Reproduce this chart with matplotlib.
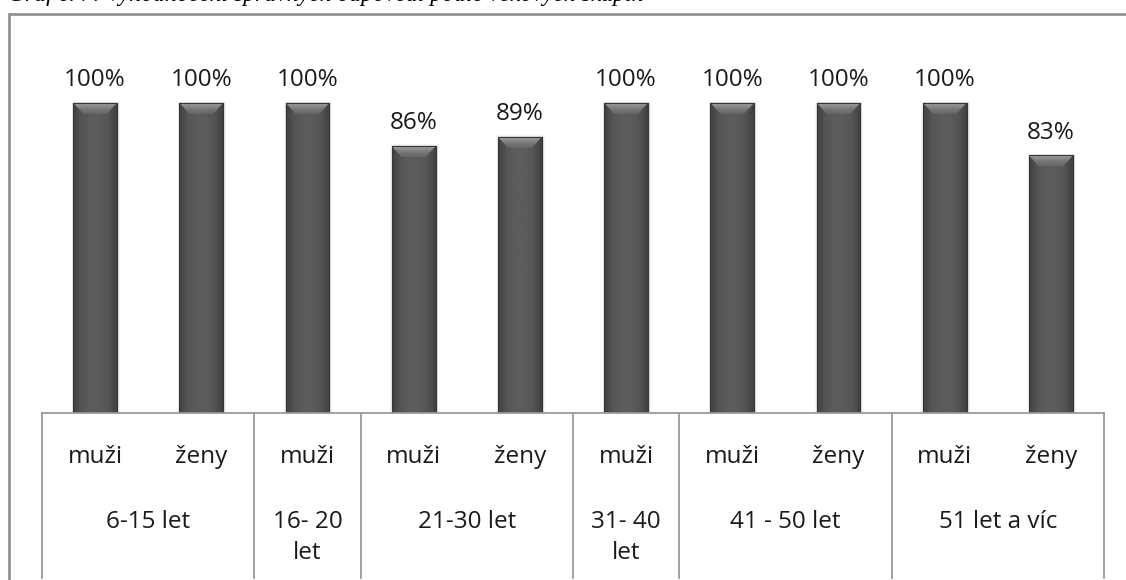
import matplotlib
matplotlib.use("Agg")
import matplotlib.pyplot as plt
import numpy as np
from matplotlib.patches import Rectangle, Polygon
from matplotlib.colors import LinearSegmentedColormap

# ---- data ----
sub_labels = ["muži", "ženy", "muži", "muži", "ženy", "muži", "muži", "ženy", "muži", "ženy"]
values = [100, 100, 100, 86, 89, 100, 100, 100, 100, 83]
value_labels = ["100%", "100%", "100%", "86%", "89%", "100%", "100%", "100%", "100%", "83%"]
group_labels = ["6-15 let", "16- 20\nlet", "21-30 let", "31- 40\nlet", "41 - 50 let", "51 let a víc"]
group_sizes = [2, 1, 2, 1, 2, 2]
caption = "Graf č. 7: Vyhodnocení správných odpovědí podle věkových skupin"

W, H = 1126, 580
fig = plt.figure(figsize=(W / 100, H / 100), dpi=100)
fig.patch.set_facecolor("white")

def fx(px):
    return px / W

def fy(py):
    return 1 - py / H

FONT = "Open Sans"

# outer frame (extends beyond the right and bottom edges)
frame = Rectangle((fx(8.5), fy(700)), 1.2, (700 - 14) / H, transform=fig.transFigure,
                  fill=False, edgecolor="#8c8c8c", linewidth=1.9, zorder=0)
fig.add_artist(frame)

# caption, mostly cut off at the top edge (as in the reference)
fig.text(fx(8), fy(1.0), caption, fontsize=17, family="Liberation Serif", style="italic",
         va="baseline", ha="left", color="black")

# ---- main axes ----
left_px, right_px = 42, 1104
base_px, full_px = 413, 102.7
top_px = 20
ax = fig.add_axes([fx(left_px), fy(base_px), fx(right_px - left_px), (base_px - top_px) / H])
scale = (base_px - full_px) / 100.0
ax.set_xlim(0, len(values))
ax.set_ylim(0, (base_px - top_px) / scale)
ax.axis("off")

n = len(values)
xpos = np.arange(n) + 0.5
bw = 0.414

# faint soft shadow
for k, a in [(0.02, 0.035), (0.01, 0.05)]:
    ax.bar(xpos + 0.008, np.array(values) + k * 30, width=bw + 2 * k, color="black",
           alpha=a, zorder=1, linewidth=0)

bars = ax.bar(xpos, values, width=bw, color="#555555", edgecolor="#3a3a3a",
              linewidth=0.8, zorder=2)

cmap = LinearSegmentedColormap.from_list(
    "cyl", ["#404040", "#555555", "#5c5c5c", "#5c5c5c", "#555555", "#404040"])
bev_cmap = LinearSegmentedColormap.from_list("bev", ["#666666", "#7a7a7a", "#a0a0a0"])
grad = np.linspace(0, 1, 256).reshape(1, -1)
vgrad = np.linspace(0, 1, 64).reshape(-1, 1)
bev_h = 11 / scale
bev_w = 10 / ((right_px - left_px) / n)
for rect in bars:
    x0, y0, w, h = rect.get_x(), rect.get_y(), rect.get_width(), rect.get_height()
    im = ax.imshow(grad, extent=[x0, x0 + w, y0, y0 + h], aspect="auto", cmap=cmap,
                   zorder=2.5, interpolation="bicubic")
    im.set_clip_path(rect)
    top = y0 + h
    bevel = Polygon([(x0, top), (x0 + w, top), (x0 + w - bev_w, top - bev_h),
                     (x0 + bev_w, top - bev_h)], closed=True,
                    facecolor="none", edgecolor="none", zorder=3)
    ax.add_patch(bevel)
    bim = ax.imshow(vgrad, extent=[x0, x0 + w, top - bev_h, top], aspect="auto",
                    cmap=bev_cmap, origin="lower", zorder=3, interpolation="bicubic")
    bim.set_clip_path(bevel)
    ax.add_patch(Rectangle((x0, y0), w, h, fill=False, edgecolor="#363636",
                           linewidth=0.8, zorder=3.5))

ax.set_xlim(0, n)
ax.set_ylim(0, (base_px - top_px) / scale)

for x, v, lab in zip(xpos, values, value_labels):
    ax.annotate(lab, (x, v), xytext=(0, 12), textcoords="offset points",
                ha="center", va="baseline", fontsize=17.5, family=FONT, color="#1a1a1a")

# ---- category table ----
tax = fig.add_axes([fx(left_px), 0, fx(right_px - left_px), fy(base_px)])
tax.set_xlim(0, n)
tax.set_ylim(H, base_px)  # pixel rows, top = base_px
tax.axis("off")
line_kw = dict(color="#9a9a9a", linewidth=1.3, clip_on=False)
tax.plot([0, n], [base_px, base_px], **line_kw)
bounds = np.concatenate([[0], np.cumsum(group_sizes)])
for b in bounds:
    tax.plot([b, b], [base_px, H - 2], **line_kw)

for x, lab in zip(xpos, sub_labels):
    tax.text(x, 457, lab, ha="center", va="center", fontsize=17.5, family=FONT, color="#1a1a1a")

for i, g in enumerate(group_labels):
    cx = (bounds[i] + bounds[i + 1]) / 2
    for j, line in enumerate(g.split("\n")):
        tax.text(cx, 522 + 31 * j, line, ha="center", va="center", fontsize=17.5,
                 family=FONT, color="#1a1a1a")

fig.savefig("out.png", dpi=100, facecolor="white")
